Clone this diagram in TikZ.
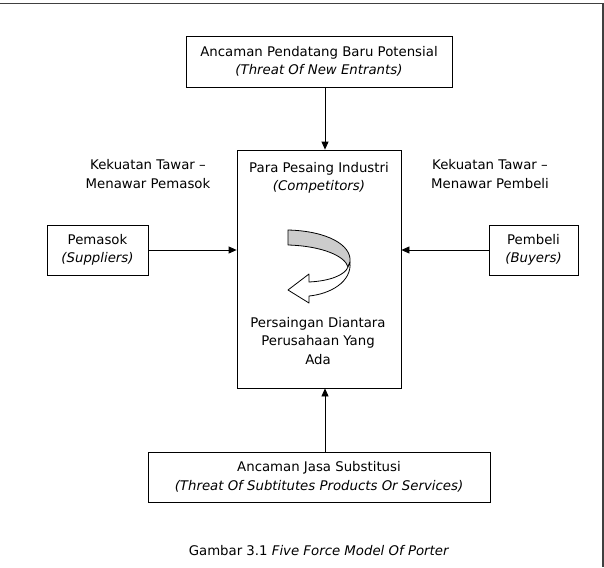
\documentclass[tikz,border=0pt]{standalone}
\usepackage{fontspec}
\setmainfont{DejaVu Sans}
\usetikzlibrary{arrows.meta, positioning, calc}

\begin{document}
\begin{tikzpicture}[x=1pt, y=-1pt,
    forcebox/.style={draw, rectangle, thick, align=center, inner sep=0pt},
    forcetext/.style={align=center, inner sep=0pt},
    force/.style={thick, -{Triangle[length=8pt, width=7pt]}},
    every node/.style={font=\fontsize{13.3}{18.5}\selectfont}]
    \useasboundingbox (0,0) rectangle (604,567);
    % bingkai
    \draw[line width=1.2pt, black!75] (0,3.5) -- (603,3.5) -- (603,567);

    % kotak-kotak kekuatan
    \node [forcebox, minimum width=266pt, minimum height=51pt] (entrants) at (319,61.5)
        {Ancaman Pendatang Baru Potensial\\\textit{(Threat Of New Entrants)}};
    \node [forcebox, minimum width=164pt, minimum height=238pt] (industry) at (319,269) {};
    \node [forcebox, minimum width=101pt, minimum height=50pt] (suppliers) at (97.5,250)
        {Pemasok\\\textit{(Suppliers)}};
    \node [forcebox, minimum width=89pt, minimum height=50pt] (buyers) at (533.5,250)
        {Pembeli\\\textit{(Buyers)}};
    \node [forcebox, minimum width=342pt, minimum height=50pt] (substitutes) at (319,477)
        {Ancaman Jasa Substitusi\\\textit{(Threat Of Subtitutes Products Or Services)}};

    % teks di dalam kotak industri
    \node [forcetext] (competitors) at (319,178) {Para Pesaing Industri\\\textit{(Competitors)}};
    \node [forcetext] (rivalry) at (318,341) {Persaingan Diantara\\Perusahaan Yang\\Ada};

    % label daya tawar
    \node [forcetext] (supplierpower) at (148,174) {Kekuatan Tawar --\\Menawar Pemasok};
    \node [forcetext] (buyerpower) at (490,174) {Kekuatan Tawar --\\Menawar Pembeli};

    % panah kekuatan
    \coordinate (arrowx) at (325,0);
    \draw[force] (entrants.south -| arrowx) -- (industry.north -| arrowx);
    \draw[force] (substitutes.north -| arrowx) -- (industry.south -| arrowx);
    \draw[force] (suppliers.east) -- (suppliers.east -| industry.west);
    \draw[force] (buyers.west) -- (buyers.west -| industry.east);

    % panah melingkar
    \filldraw[fill=gray!40, thick, line join=round]
        (288,230) .. controls (327,231) and (352,245) .. (350,262)
        -- (348,267) .. controls (345,256) and (322,246) .. (288,245) -- cycle;
    \filldraw[fill=white, thick, line join=round]
        (350,262) .. controls (352,282) and (330,294) .. (309,296)
        -- (309,303) -- (288,290) -- (309,274) -- (309,282)
        .. controls (330,281) and (345,275) .. (348,267) -- cycle;

    % keterangan gambar
    \node (caption) at (319,551) {Gambar 3.1 \textit{Five Force Model Of Porter}};
\end{tikzpicture}
\end{document}
